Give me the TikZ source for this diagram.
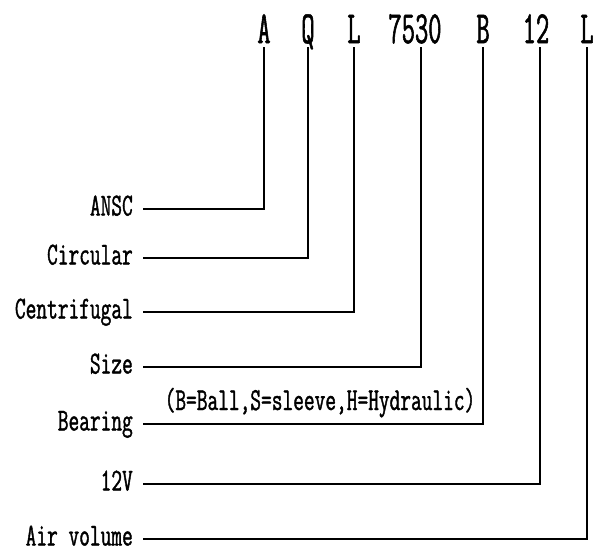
\documentclass[tikz,border=0pt]{standalone}
\usepackage{fontspec}
\newfontfamily\labelfont{Latin Modern Mono}[FakeStretch=0.65,FakeBold=1.2]
\newfontfamily\codefont{Latin Modern Mono}[FakeStretch=0.56,FakeBold=1.2]
\tikzset{
  code/.style={font=\codefont\fontsize{46}{46}\selectfont, anchor=base, inner xsep=0pt, inner ysep=4pt, text depth=0pt},
  lbl/.style={font=\labelfont\fontsize{32}{34}\selectfont, anchor=east, inner xsep=10pt, inner ysep=0pt, text height=13pt, text depth=0pt},
  note/.style={font=\labelfont\fontsize{32}{34}\selectfont, anchor=base, inner sep=0pt},
  link/.style={line width=1.7pt}
}
\begin{document}
\begin{tikzpicture}[x=1pt,y=-1pt]
\useasboundingbox (0,0) rectangle (597,550);
% model code
\node[code] (cA) at (264,43) {A};
\node[code] (cQ) at (308,43) {Q};
\node[code] (cL) at (354,43) {L};
\node[code] (cSize) at (415,43) {7530};
\node[code] (cB) at (483,43) {B};
\node[code] (cV) at (536,43) {12};
\node[code] (cAir) at (587,43) {L};
% meanings
\node[lbl] (lA) at (143,209) {ANSC};
\node[lbl] (lQ) at (143,258) {Circular};
\node[lbl] (lL) at (143,312) {Centrifugal};
\node[lbl] (lSize) at (143,367) {Size};
\node[lbl] (lB) at (143,424) {Bearing};
\node[lbl] (lV) at (143,484) {12V};
\node[lbl] (lAir) at (143,539) {Air volume};
\node[note] (bnote) at (320,410) {(B=Ball,S=sleeve,H=Hydraulic)};
% connectors
\draw[link] (cA.south) |- (lA.east);
\draw[link] (cQ.south) |- (lQ.east);
\draw[link] (cL.south) |- (lL.east);
\draw[link] ([xshift=6pt]cSize.south) |- (lSize.east);
\draw[link] (cB.south) |- (lB.east);
\draw[link] ([xshift=4pt]cV.south) |- (lV.east);
\draw[link] (cAir.south) |- (lAir.east);
\end{tikzpicture}
\end{document}
